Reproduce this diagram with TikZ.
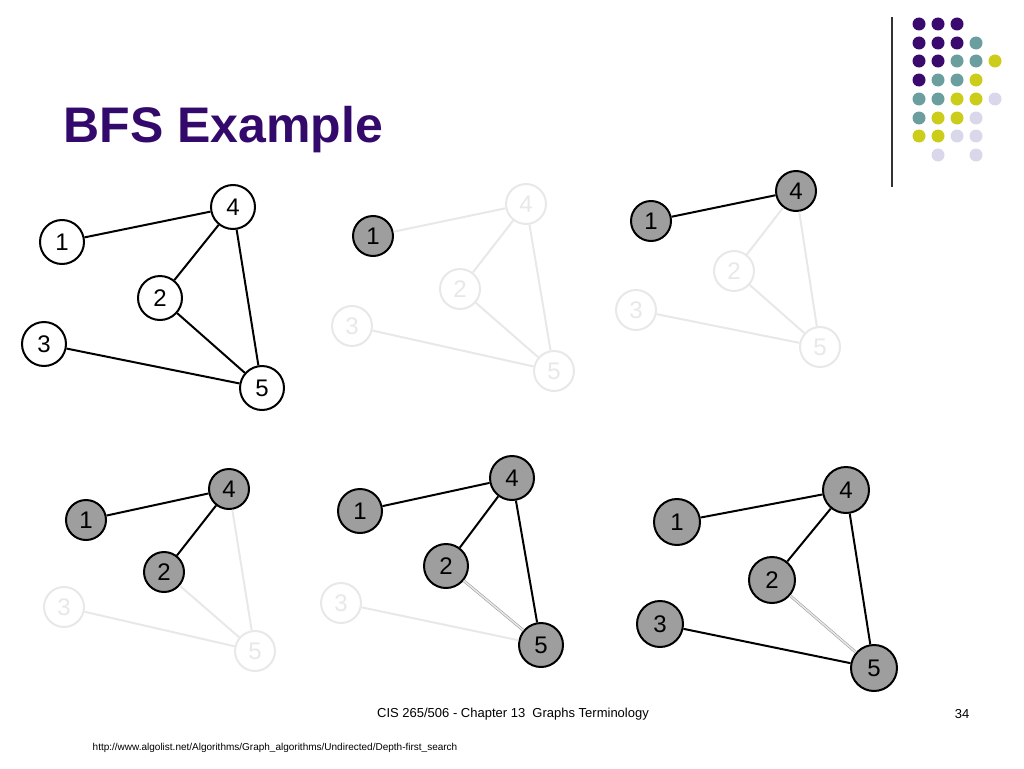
\documentclass[tikz,border=0pt]{standalone}
\usepackage{fontspec}
\setmainfont{Liberation Sans}
\usepackage{tikz}
\definecolor{titlepurple}{RGB}{51,10,107}
\definecolor{dotpurple}{RGB}{58,10,110}
\definecolor{dotteal}{RGB}{107,158,158}
\definecolor{dotyellow}{RGB}{204,204,26}
\definecolor{dotlilac}{RGB}{216,216,234}
\definecolor{faded}{RGB}{232,232,232}
\definecolor{visited}{RGB}{158,158,158}
\tikzset{
    plain/.style = {circle, draw = black, fill = white, line width = 2pt, minimum size = 44pt, inner sep = 0pt, font = \fontsize{24}{24}\selectfont},
    seen/.style = {plain, fill = visited},
    ghost/.style = {plain, draw = faded, text = faded, minimum size = 40pt},
    edge/.style = {line width = 2pt},
    fadededge/.style = {line width = 2pt, faded},
    crossedge/.style = {double = faded, draw = visited, double distance = 1.5pt, line width = 0.6pt},
    dot/.style = {circle, inner sep = 0pt, minimum size = 13pt}
}
\begin{document}
\begin{tikzpicture}[x = 1pt, y = -1pt]
        \useasboundingbox (0,0) rectangle (1024,768);
        \node [anchor = base west, text = titlepurple, font = \bfseries\fontsize{50}{50}\selectfont] (title) at (60,142) {BFS Example};
        % decoration
        \draw [line width = 1.2pt, black!80] (892,17) -- (892,187);
        \foreach \row/\cols in {24/{1/dotpurple,2/dotpurple,3/dotpurple},
                                43/{1/dotpurple,2/dotpurple,3/dotpurple,4/dotteal},
                                61/{1/dotpurple,2/dotpurple,3/dotteal,4/dotteal,5/dotyellow},
                                80/{1/dotpurple,2/dotteal,3/dotteal,4/dotyellow},
                                99/{1/dotteal,2/dotteal,3/dotyellow,4/dotyellow,5/dotlilac},
                                118/{1/dotteal,2/dotyellow,3/dotyellow,4/dotlilac},
                                136/{1/dotyellow,2/dotyellow,3/dotlilac,4/dotlilac},
                                155/{2/dotlilac,4/dotlilac}}
            \foreach \c/\col in \cols
                \node [dot, fill = \col] at ({900 + 19*\c}, \row) {};
        % whole graph
        \node [plain] (a1) at (62,242) {1};
        \node [plain] (a4) at (233,207) {4};
        \node [plain] (a2) at (160,298) {2};
        \node [plain] (a3) at (44,344) {3};
        \node [plain] (a5) at (262,388) {5};
        \draw [edge] (a1) -- (a4) (a4) -- (a2) (a4) -- (a5) (a2) -- (a5) (a3) -- (a5);
        % step 1
        \node [seen, minimum size = 40pt] (b1) at (373,236) {1};
        \node [ghost] (b4) at (526,204) {4};
        \node [ghost] (b2) at (460,289) {2};
        \node [ghost] (b3) at (352,326) {3};
        \node [ghost] (b5) at (554,371) {5};
        \draw [fadededge] (b1) -- (b4) (b4) -- (b2) (b4) -- (b5) (b2) -- (b5) (b3) -- (b5);
        % step 2
        \node [seen, minimum size = 40pt] (c1) at (651,221) {1};
        \node [seen, minimum size = 40pt] (c4) at (796,191) {4};
        \node [ghost] (c2) at (734,271) {2};
        \node [ghost] (c3) at (636,310) {3};
        \node [ghost] (c5) at (820,347) {5};
        \draw [edge] (c1) -- (c4);
        \draw [fadededge] (c4) -- (c2) (c4) -- (c5) (c2) -- (c5) (c3) -- (c5);
        % step 3
        \node [seen, minimum size = 40pt] (d1) at (86,520) {1};
        \node [seen, minimum size = 40pt] (d4) at (229,489) {4};
        \node [seen, minimum size = 40pt] (d2) at (164,572) {2};
        \node [ghost] (d3) at (64,607) {3};
        \node [ghost] (d5) at (255,651) {5};
        \draw [edge] (d1) -- (d4) (d4) -- (d2);
        \draw [fadededge] (d4) -- (d5) (d2) -- (d5) (d3) -- (d5);
        % step 4
        \node [seen] (e1) at (360,511) {1};
        \node [seen] (e4) at (512,478) {4};
        \node [seen] (e2) at (446,566) {2};
        \node [ghost] (e3) at (341,603) {3};
        \node [seen] (e5) at (541,645) {5};
        \draw [fadededge] (e3) -- (e5);
        \draw [crossedge] (e2) -- (e5);
        \draw [edge] (e1) -- (e4) (e4) -- (e2) (e4) -- (e5);
        % step 5
        \node [seen, minimum size = 46pt] (f1) at (677,522) {1};
        \node [seen, minimum size = 46pt] (f4) at (846,490) {4};
        \node [seen, minimum size = 46pt] (f2) at (772,580) {2};
        \node [seen, minimum size = 46pt] (f3) at (660,624) {3};
        \node [seen, minimum size = 46pt] (f5) at (874,668) {5};
        \draw [crossedge] (f2) -- (f5);
        \draw [edge] (f1) -- (f4) (f4) -- (f2) (f4) -- (f5) (f3) -- (f5);
        % footer
        \node [font = \fontsize{13}{13}\selectfont] (footer) at (513,714) {CIS 265/506 - Chapter 13\ \ Graphs Terminology};
        \node [font = \fontsize{13}{13}\selectfont] (page) at (962,714) {34};
        \node [font = \fontsize{10}{10}\selectfont] (source) at (275,748) {http://www.algolist.net/Algorithms/Graph\_algorithms/Undirected/Depth-first\_search};
    \end{tikzpicture}
\end{document}
